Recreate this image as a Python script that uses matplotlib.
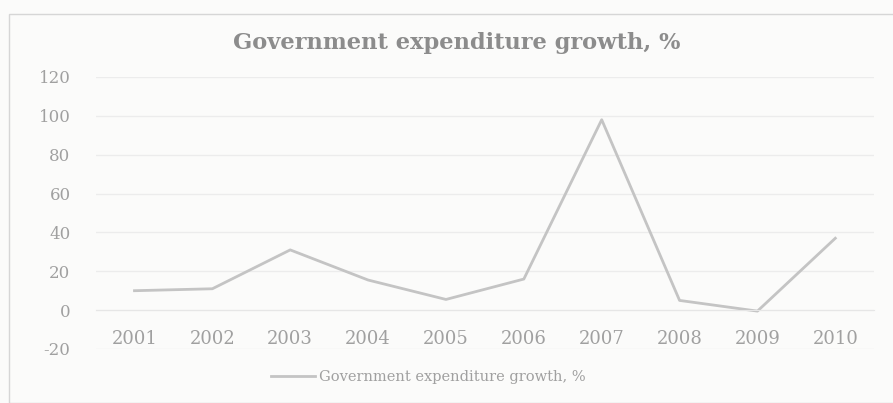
import matplotlib.pyplot as plt
from matplotlib.patches import Rectangle

years = ['2001', '2002', '2003', '2004', '2005', '2006', '2007', '2008', '2009', '2010']
growth = [10, 11, 31, 15.5, 5.5, 16, 98, 5, -0.5, 37]
series_name = 'Government expenditure growth, %'

plt.rcParams['font.family'] = ['DejaVu Serif']
plt.rcParams['axes.unicode_minus'] = False
text_col = '#a0a0a0'

fig = plt.figure(figsize=(8.93, 4.03), dpi=100)
fig.patch.set_facecolor('#fbfbfa')
fig.patches.append(Rectangle((9 / 893, 0.0), 0.995, 1 - 14 / 403, transform=fig.transFigure,
                             fill=False, edgecolor='#d6d6d6', linewidth=1))

ax = fig.add_axes([0.107, 0.134, 0.872, 0.675])
ax.set_facecolor('none')
x = range(len(years))
line, = ax.plot(x, growth, color='#c4c4c4', linewidth=2, label=series_name)

ax.set_xlim(-0.5, len(years) - 0.5)
ax.set_ylim(-20, 120)
ax.set_yticks(range(-20, 121, 20))
ax.set_xticks(list(x))
ax.set_xticklabels(years)
ax.grid(axis='y', color='#ececec', linewidth=1)
ax.set_axisbelow(True)

for s in ['top', 'right', 'left']:
    ax.spines[s].set_visible(False)
ax.spines['bottom'].set_position(('data', 0))
ax.spines['bottom'].set_color('#e6e6e6')
ax.tick_params(axis='x', length=0, pad=14, labelsize=13, labelcolor=text_col)
ax.tick_params(axis='y', length=0, pad=18, labelsize=12, labelcolor=text_col)

fig.text(457 / 893, 1 - 43 / 403, series_name, ha='center', va='center',
         fontsize=16.2, fontweight='bold', color='#8c8c8c')

fig.legend(handles=[line], loc='center left', bbox_to_anchor=(258 / 893, 1 - 377 / 403),
           frameon=False, fontsize=10.5, labelcolor=text_col, handlelength=3,
           handletextpad=0.3)

plt.savefig('out.png', dpi=100, facecolor=fig.get_facecolor())
